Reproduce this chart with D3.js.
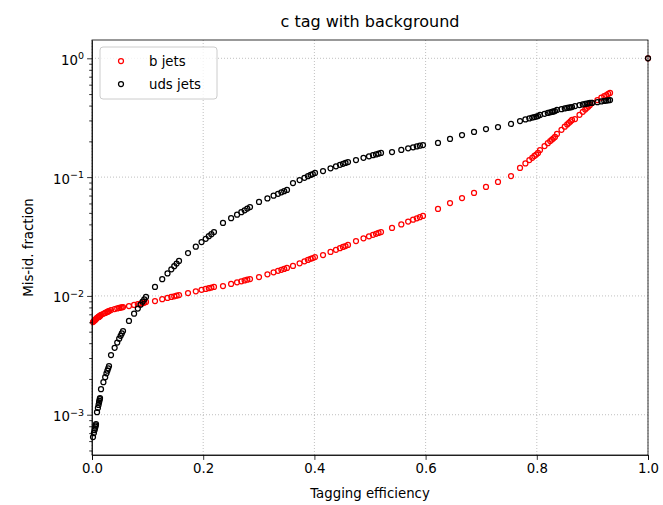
<!doctype html>
<html>
<head>
<meta charset="UTF-8">
<title>c tag with background</title>
<style>
  body { margin: 0; background: #fff; }
  #chart { font-family: "DejaVu Sans", sans-serif; }
  .grid line { stroke: #b0b0b0; stroke-width: 0.8; stroke-dasharray: 1,2; }
  .axis path, .axis line { stroke: #000; stroke-width: 0.8; }
  .axis text { font-size: 13.3px; fill: #000; font-family: "DejaVu Sans", sans-serif; }
</style>
</head>
<body>
<div id="chart"></div>
<script src="https://cdn.jsdelivr.net/npm/d3@7"></script>
<script>
// c-tagging efficiency (shared by both series)
var eff = [
  0.0018, 0.0034, 0.0046, 0.0055, 0.0061, 0.0067, 0.0072,
  0.0090, 0.0106, 0.0118, 0.0127, 0.0133, 0.0139, 0.0144,
  0.0162, 0.0205, 0.0237, 0.0260, 0.0277, 0.0292, 0.0306,
  0.0342, 0.0407, 0.0454, 0.0489, 0.0515, 0.0536, 0.0558,
  0.0665, 0.0757, 0.0824, 0.0873, 0.0910, 0.0940, 0.0971,
  0.1133, 0.1263, 0.1358, 0.1427, 0.1479, 0.1522, 0.1565,
  0.1727, 0.1867, 0.1970, 0.2045, 0.2101, 0.2147, 0.2194,
  0.2356, 0.2502, 0.2609, 0.2686, 0.2745, 0.2793, 0.2842,
  0.3004, 0.3155, 0.3266, 0.3346, 0.3406, 0.3457, 0.3507,
  0.3615, 0.3734, 0.3821, 0.3884, 0.3932, 0.3971, 0.4011,
  0.4155, 0.4290, 0.4388, 0.4460, 0.4514, 0.4559, 0.4604,
  0.4748, 0.4883, 0.4982, 0.5054, 0.5108, 0.5153, 0.5198,
  0.5396, 0.5563, 0.5686, 0.5775, 0.5842, 0.5897, 0.5953,
  0.6223, 0.6439, 0.6655, 0.6871, 0.7086, 0.7302, 0.7536,
  0.7698, 0.7795, 0.7866, 0.7918, 0.7957, 0.7990, 0.8022,
  0.8058, 0.8139, 0.8198, 0.8241, 0.8273, 0.8300, 0.8327,
  0.8363, 0.8444, 0.8503, 0.8547, 0.8579, 0.8606, 0.8633,
  0.8687, 0.8768, 0.8827, 0.8871, 0.8903, 0.8930, 0.8957,
  0.8993, 0.9090, 0.9161, 0.9213, 0.9252, 0.9285, 0.9317,
  1.0
];

// b jets mis-id fraction
var bMis = [
  0.00603, 0.00614, 0.00622, 0.00628, 0.00632, 0.00635, 0.00639,
  0.00652, 0.00660, 0.00665, 0.00669, 0.00672, 0.00675, 0.00678,
  0.00691, 0.00706, 0.00719, 0.00728, 0.00735, 0.00741, 0.00746,
  0.00761, 0.00775, 0.00785, 0.00792, 0.00798, 0.00802, 0.00806,
  0.00822, 0.00839, 0.00852, 0.00862, 0.00869, 0.00876, 0.00889,
  0.00906, 0.00938, 0.00962, 0.00980, 0.00993, 0.01005, 0.01017,
  0.01057, 0.01094, 0.01125, 0.01146, 0.01161, 0.01175, 0.01189,
  0.01211, 0.01262, 0.01300, 0.01327, 0.01349, 0.01368, 0.01387,
  0.01442, 0.01521, 0.01581, 0.01626, 0.01660, 0.01687, 0.01718,
  0.01786, 0.01879, 0.01954, 0.02009, 0.02051, 0.02084, 0.02123,
  0.02208, 0.02344, 0.02443, 0.02523, 0.02582, 0.02630, 0.02685,
  0.02897, 0.03055, 0.03177, 0.03266, 0.03334, 0.03388, 0.0345,
  0.0373, 0.0400, 0.0422, 0.0438, 0.0450, 0.0460, 0.0471,
  0.0539, 0.0605, 0.0667, 0.0735, 0.0826, 0.0910, 0.1021,
  0.1194, 0.1303, 0.1390, 0.1455, 0.1507, 0.1549, 0.1596,
  0.1690, 0.1824, 0.1928, 0.2009, 0.2070, 0.2123, 0.2178,
  0.2307, 0.2500, 0.2655, 0.2773, 0.2864, 0.2944, 0.3027,
  0.3083, 0.3342, 0.3548, 0.3707, 0.3828, 0.3936, 0.4046,
  0.4207, 0.4457, 0.4656, 0.4797, 0.4909, 0.5012, 0.5105,
  1.0
];

// uds jets mis-id fraction
var udsMis = [
  0.000649, 0.000700, 0.000740, 0.000769, 0.000793, 0.000813, 0.000834,
  0.00105, 0.00114, 0.00121, 0.00127, 0.00131, 0.00135, 0.00138,
  0.00164, 0.00188, 0.00207, 0.00223, 0.00235, 0.00246, 0.00257,
  0.00318, 0.00366, 0.00405, 0.00436, 0.00461, 0.00483, 0.00506,
  0.00615, 0.00708, 0.00783, 0.00843, 0.00893, 0.00935, 0.00980,
  0.01189, 0.01384, 0.01545, 0.01675, 0.01778, 0.01871, 0.01968,
  0.02297, 0.02594, 0.02838, 0.03027, 0.03184, 0.03311, 0.0345,
  0.0411, 0.0451, 0.0483, 0.0507, 0.0526, 0.0543, 0.0560,
  0.0618, 0.0662, 0.0698, 0.0724, 0.0745, 0.0762, 0.0780,
  0.0891, 0.0944, 0.0986, 0.1019, 0.1042, 0.1062, 0.1084,
  0.1125, 0.1186, 0.1233, 0.1268, 0.1294, 0.1315, 0.1340,
  0.1393, 0.1452, 0.1496, 0.1528, 0.1552, 0.1574, 0.1596,
  0.1626, 0.1694, 0.1746, 0.1782, 0.1811, 0.1837, 0.1862,
  0.1937, 0.2094, 0.226, 0.240, 0.254, 0.264, 0.280,
  0.2965, 0.3055, 0.3119, 0.3170, 0.3206, 0.3236, 0.3266,
  0.3334, 0.3412, 0.3467, 0.3508, 0.3540, 0.3573, 0.3597,
  0.3673, 0.3733, 0.3784, 0.3819, 0.3846, 0.3864, 0.3890,
  0.3963, 0.4036, 0.4093, 0.4130, 0.4159, 0.4178, 0.4207,
  0.4207, 0.4276, 0.4335, 0.4375, 0.4406, 0.4426, 0.4457,
  1.0
];

var seriesNames = ["b jets", "uds jets"];
var seriesColors = ["#ff0000", "#000000"];
var xTicks = [0, 0.2, 0.4, 0.6, 0.8, 1.0];
var yExps = [-3, -2, -1, 0];

var W = 663, H = 505;
var margin = {top: 40, right: 15, bottom: 50, left: 92};
var w = W - margin.left - margin.right;
var h = H - margin.top - margin.bottom;

var svg = d3.select("#chart").append("svg")
    .attr("width", W).attr("height", H);
var g = svg.append("g")
    .attr("transform", "translate(" + margin.left + "," + margin.top + ")");

var x = d3.scaleLinear().domain([0, 1]).range([0, w]);
var y = d3.scaleLog().domain([4.58e-4, 1.426]).range([h, 0]);

// grid
g.append("g").attr("class", "grid")
  .selectAll("line").data(xTicks).enter().append("line")
  .attr("x1", function (d) { return x(d); }).attr("x2", function (d) { return x(d); })
  .attr("y1", 0).attr("y2", h);
g.append("g").attr("class", "grid")
  .selectAll("line").data(yExps).enter().append("line")
  .attr("x1", 0).attr("x2", w)
  .attr("y1", function (d) { return y(Math.pow(10, d)); })
  .attr("y2", function (d) { return y(Math.pow(10, d)); });

// points
var sets = [bMis, udsMis];
sets.forEach(function (vals, i) {
  g.append("g").selectAll("circle")
    .data(eff.map(function (e, k) { return [e, vals[k]]; }))
    .enter().append("circle")
    .attr("cx", function (d) { return x(d[0]); })
    .attr("cy", function (d) { return y(d[1]); })
    .attr("r", 2.5)
    .attr("fill", "none")
    .attr("stroke", seriesColors[i])
    .attr("stroke-width", 1.25);
});

// x axis
g.append("g").attr("class", "axis")
  .attr("transform", "translate(0," + h + ")")
  .call(d3.axisBottom(x).tickValues(xTicks).tickFormat(d3.format(".1f")).tickSizeOuter(0).tickSize(4.9).tickPadding(4));

// y axis minor ticks
var minor = [];
[-4, -3, -2, -1, 0].forEach(function (e) {
  for (var m = 2; m <= 9; m++) {
    var v = m * Math.pow(10, e);
    if (v >= y.domain()[0] && v <= y.domain()[1]) minor.push(v);
  }
});
g.append("g").attr("class", "axis")
  .call(d3.axisLeft(y).tickValues(minor).tickFormat("").tickSize(2.8).tickSizeOuter(0))
  .select("path").remove();

var yAxis = g.append("g").attr("class", "axis")
  .call(d3.axisLeft(y).tickValues(yExps.map(function (e) { return Math.pow(10, e); }))
    .tickFormat("").tickSize(4.9).tickSizeOuter(0));
yAxis.selectAll(".tick").each(function (d) {
  var e = Math.round(Math.log10(d));
  var t = d3.select(this).append("text")
    .attr("x", -8).attr("dy", "0.45em")
    .attr("text-anchor", "end");
  t.append("tspan").text("10");
  t.append("tspan").attr("dy", "-0.6em").attr("font-size", "9.5px")
    .text(e < 0 ? "\u2212" + (-e) : String(e));
});

// frame
g.append("rect").attr("width", w).attr("height", h)
  .attr("fill", "none").attr("stroke", "#000").attr("stroke-width", 0.8);

// titles
svg.append("text").attr("x", margin.left + w / 2).attr("y", 27)
  .attr("text-anchor", "middle").attr("font-size", "16px")
  .attr("font-family", "DejaVu Sans, sans-serif")
  .text("c tag with background");
svg.append("text").attr("x", margin.left + w / 2).attr("y", 498)
  .attr("text-anchor", "middle").attr("font-size", "13.3px")
  .attr("font-family", "DejaVu Sans, sans-serif")
  .text("Tagging efficiency");
svg.append("text")
  .attr("transform", "translate(33," + (margin.top + h / 2) + ") rotate(-90)")
  .attr("text-anchor", "middle").attr("font-size", "13.3px")
  .attr("font-family", "DejaVu Sans, sans-serif")
  .text("Mis-id. fraction");

// legend
var leg = svg.append("g").attr("transform", "translate(100,47)");
leg.append("rect").attr("width", 117).attr("height", 52).attr("rx", 3)
  .attr("fill", "#fff").attr("fill-opacity", 0.8)
  .attr("stroke", "#cccccc").attr("stroke-width", 1);
seriesNames.forEach(function (name, i) {
  leg.append("circle").attr("cx", 21).attr("cy", 14 + i * 23).attr("r", 2.5)
    .attr("fill", "none").attr("stroke", seriesColors[i]).attr("stroke-width", 1.25);
  leg.append("text").attr("x", 49).attr("y", 14 + i * 23).attr("dy", "0.35em")
    .attr("font-size", "13.3px").attr("font-family", "DejaVu Sans, sans-serif")
    .text(name);
});
</script>
</body>
</html>
